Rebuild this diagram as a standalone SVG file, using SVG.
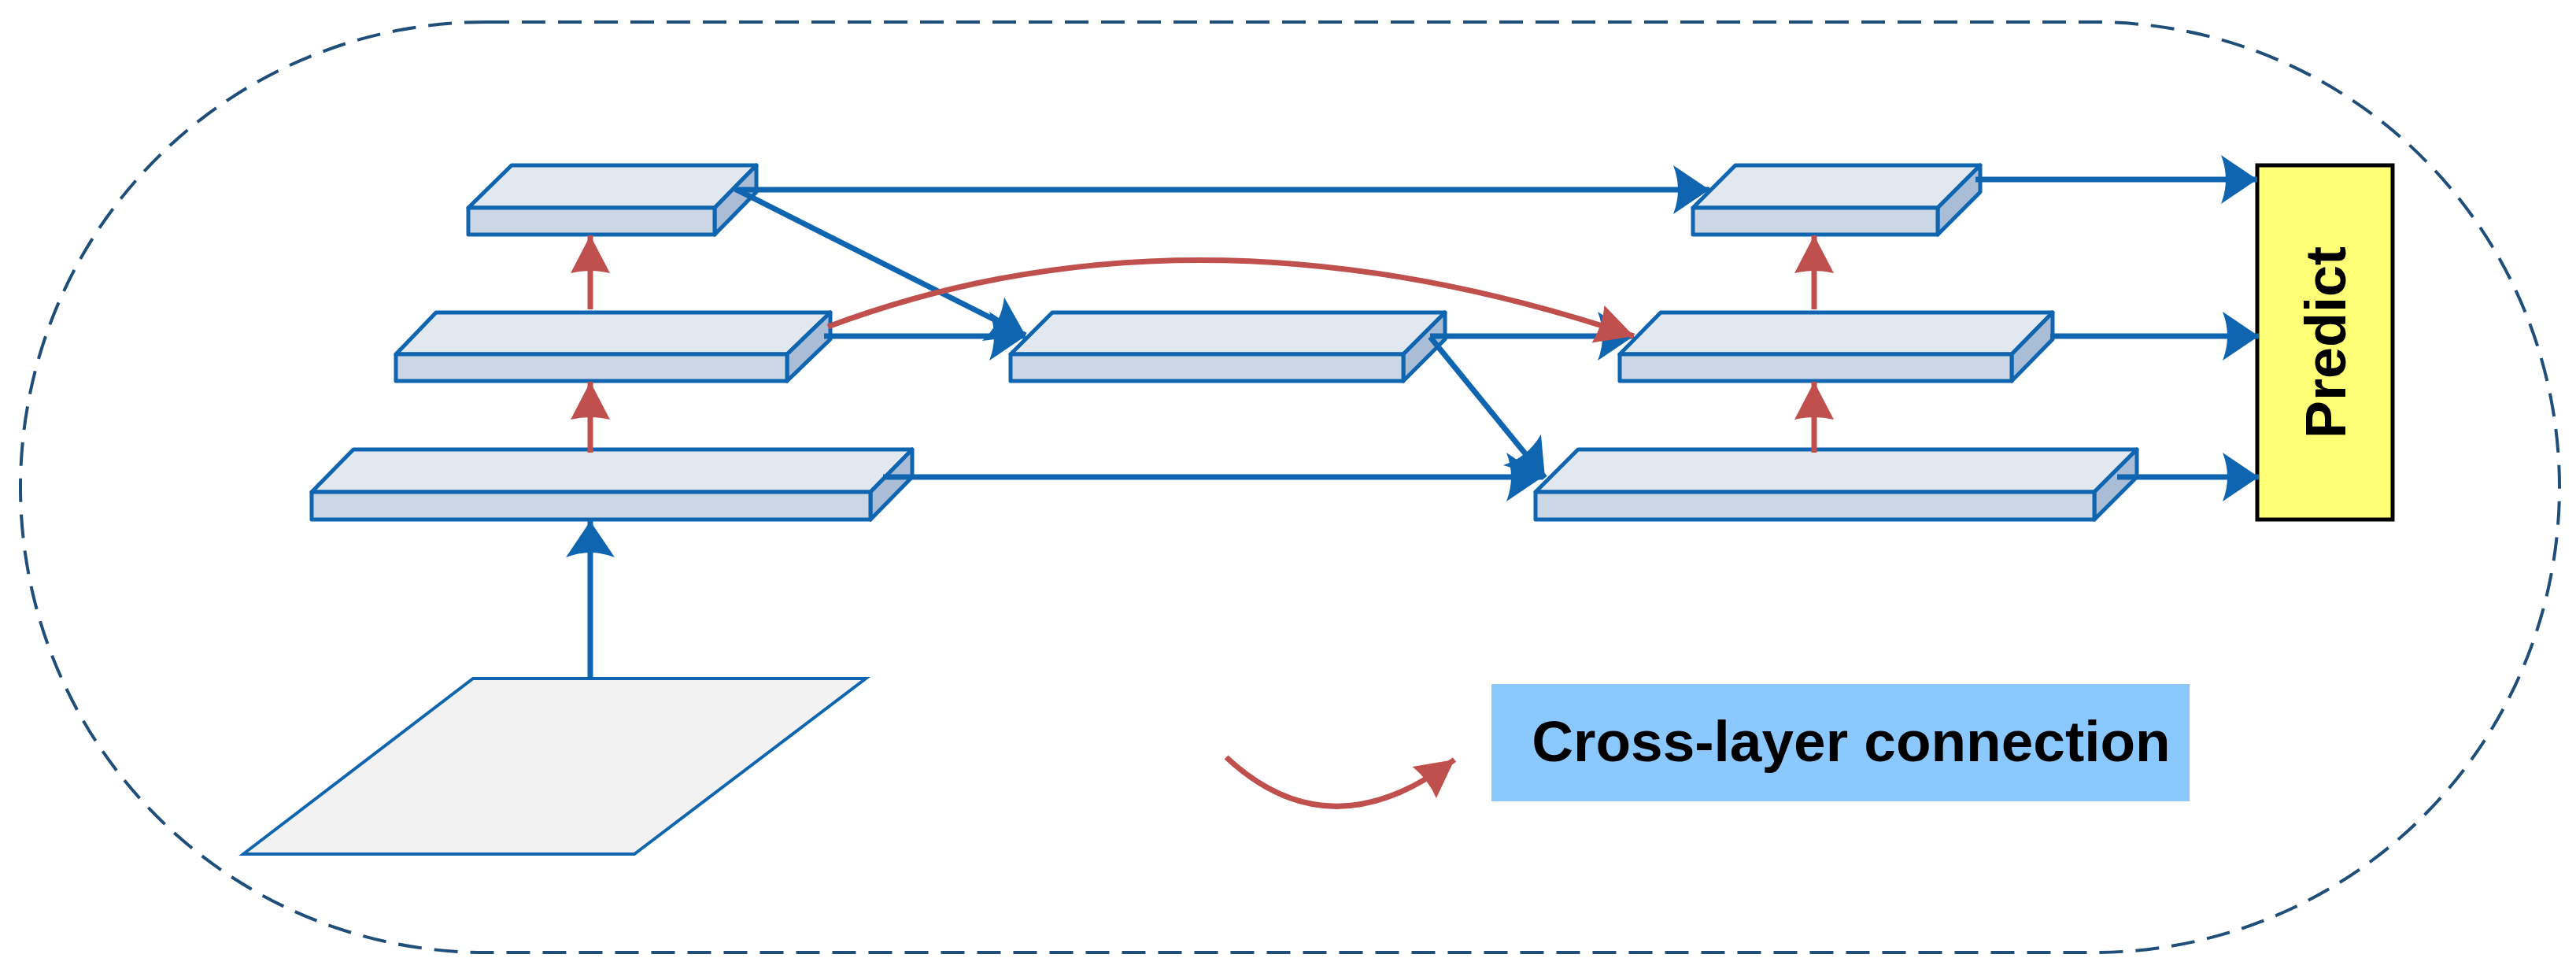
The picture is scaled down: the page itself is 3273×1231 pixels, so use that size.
<svg xmlns="http://www.w3.org/2000/svg" width="3273" height="1231" viewBox="0 0 3273 1231">
<style>
.top{fill:#E1E8F0;stroke:#1065B0;stroke-width:5;stroke-linejoin:round}
.front{fill:#CBD7E5;stroke:#1065B0;stroke-width:5;stroke-linejoin:round}
.side{fill:#A9BDD7;stroke:#1065B0;stroke-width:5;stroke-linejoin:round}
.b{stroke:#1065B0;stroke-width:7;fill:none;marker-end:url(#ab)}
.r{stroke:#C0504D;stroke-width:7;fill:none;marker-end:url(#ar)}
</style>
<defs>
<marker id="ab" viewBox="-52 -34 54 68" markerWidth="54" markerHeight="68" refX="0" refY="0" orient="auto" markerUnits="userSpaceOnUse"><path d="M0,0 L-46,-31 Q-34,0 -46,31 Z" fill="#1065B0"/></marker>
<marker id="ar" viewBox="-52 -34 54 68" markerWidth="54" markerHeight="68" refX="0" refY="0" orient="auto" markerUnits="userSpaceOnUse"><path d="M0,0 L-48,-25 Q-42,0 -48,25 Z" fill="#C0504D"/></marker>
</defs>
<rect x="26" y="28" width="3226" height="1182" rx="591" fill="none" stroke="#1F4E79" stroke-width="4" stroke-dasharray="30,16"/>
<g id="input"><polygon points="309,1085 601,862 1100,862 806,1085" fill="#F2F2F2" stroke="#1065B0" stroke-width="4"/></g>
<g id="boxA"><polygon class="top" points="595,264 650,210 961,210 908,264"/><polygon class="side" points="908,264 961,210 961,244 908,298"/><rect class="front" x="595" y="264" width="313" height="34"/></g>
<g id="boxB"><polygon class="top" points="503,450 554,397 1055,397 1000,450"/><polygon class="side" points="1000,450 1055,397 1055,431 1000,484"/><rect class="front" x="503" y="450" width="497" height="34"/></g>
<g id="boxC"><polygon class="top" points="396,625 449,571 1159,571 1106,625"/><polygon class="side" points="1106,625 1159,571 1159,606 1106,660"/><rect class="front" x="396" y="625" width="710" height="35"/></g>
<g id="boxM"><polygon class="top" points="1284,450 1337,397 1836,397 1783,450"/><polygon class="side" points="1783,450 1836,397 1836,431 1783,484"/><rect class="front" x="1284" y="450" width="499" height="34"/></g>
<g id="boxD"><polygon class="top" points="2151,264 2205,210 2516,210 2462,264"/><polygon class="side" points="2462,264 2516,210 2516,244 2462,298"/><rect class="front" x="2151" y="264" width="311" height="34"/></g>
<g id="boxE"><polygon class="top" points="2058,450 2110,397 2608,397 2556,450"/><polygon class="side" points="2556,450 2608,397 2608,431 2556,484"/><rect class="front" x="2058" y="450" width="498" height="34"/></g>
<g id="boxF"><polygon class="top" points="1951,625 2005,571 2715,571 2661,625"/><polygon class="side" points="2661,625 2715,571 2715,606 2661,660"/><rect class="front" x="1951" y="625" width="710" height="35"/></g>
<g id="predict"><rect x="2868" y="210" width="172" height="450" fill="#FFFF77" stroke="#000" stroke-width="5"/><text x="0" y="0" transform="translate(2980,435) rotate(-90)" text-anchor="middle" font-family="Liberation Sans, Arial, sans-serif" font-weight="bold" font-size="72" fill="#000">Predict</text></g>
<g id="connectors">
<line class="b" x1="750" y1="862" x2="750" y2="662"/>
<line class="b" x1="935" y1="241" x2="2172" y2="241"/>
<line class="b" x1="934" y1="240" x2="1303" y2="426"/>
<line class="b" x1="1047" y1="427" x2="1303" y2="427"/>
<line class="b" x1="1122" y1="606" x2="1960" y2="606"/>
<line class="b" x1="1817" y1="427" x2="2076" y2="427"/>
<line class="b" x1="1817" y1="428" x2="1963" y2="607"/>
<line class="b" x1="2510" y1="228" x2="2868" y2="228"/>
<line class="b" x1="2605" y1="427" x2="2870" y2="427"/>
<line class="b" x1="2690" y1="606" x2="2870" y2="606"/>
<line class="r" x1="750" y1="393" x2="750" y2="299"/>
<line class="r" x1="750" y1="575" x2="750" y2="485"/>
<line class="r" x1="2305" y1="393" x2="2305" y2="299"/>
<line class="r" x1="2305" y1="575" x2="2305" y2="485"/>
<path class="r" d="M1052,415 Q1520,240 2076,427"/>
</g>
<g id="legend">
<path class="r" d="M1558,962 Q1690,1085 1848,965"/>
<rect x="1895" y="869" width="887" height="149" fill="#8AC8FD"/>
<text x="2352" y="967" text-anchor="middle" font-family="Liberation Sans, Arial, sans-serif" font-weight="bold" font-size="73" fill="#000">Cross-layer connection</text>
</g>
</svg>
